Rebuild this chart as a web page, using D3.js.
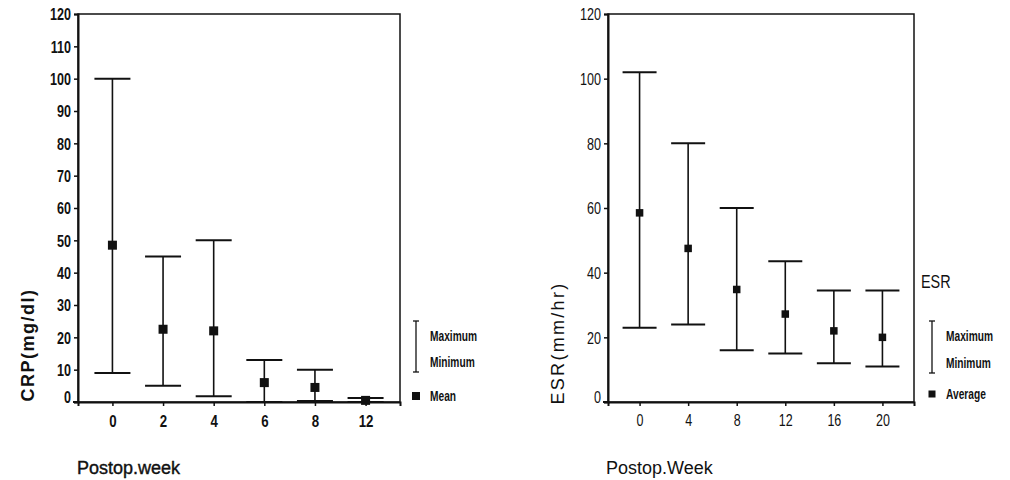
<!DOCTYPE html>
<html>
<head>
<meta charset="utf-8">
<script src="https://cdn.jsdelivr.net/npm/d3@7"></script>
<style>
  body { margin: 0; background: #fff; }
  svg { display: block; }
  text { fill: #111; }
</style>
</head>
<body>
<svg id="chart" width="1010" height="480"></svg>
<script>
// CRP panel
const crpWeeks = ["0", "2", "4", "6", "8", "12"];
const crpMax   = [100, 45, 50, 13, 10, 1.2];
const crpMean  = [48.5, 22.5, 22, 6, 4.5, 0.5];
const crpMin   = [9, 5, 1.8, 0, 0.3, 0];
const crpTicks = [0, 10, 20, 30, 40, 50, 60, 70, 80, 90, 100, 110, 120];

// ESR panel
const esrWeeks = ["0", "4", "8", "12", "16", "20"];
const esrMax   = [102, 80, 60, 43.5, 34.5, 34.5];
const esrMean  = [58.5, 47.5, 34.8, 27.2, 22, 20];
const esrMin   = [23, 24, 16, 15, 12, 11];
const esrTicks = [0, 20, 40, 60, 80, 100, 120];

const svg = d3.select("#chart");
const sans = "'Liberation Sans', Arial, sans-serif";

// squeeze text horizontally so it looks like the condensed face of the scan
function condense(sel, f) {
  sel.each(function() {
    const w = this.getComputedTextLength();
    d3.select(this).attr("textLength", w * f).attr("lengthAdjust", "spacingAndGlyphs");
  });
}

// condensed label drawn through a scale transform
function squeezedText(parent, x, y, str, size, weight, f) {
  return parent.append("text")
    .attr("transform", `translate(${x},${y}) scale(${f},1)`)
    .attr("dy", "0.35em")
    .style("font-family", sans)
    .style("font-size", size + "px")
    .style("font-weight", weight)
    .text(str);
}

function drawPanel(opt) {
  const data = opt.weeks.map((w, i) => ({ week: w, max: opt.max[i], mean: opt.mean[i], min: opt.min[i] }));
  const weight = opt.bold ? "bold" : "normal";

  const x = d3.scalePoint()
              .domain(opt.weeks)
              .range([opt.left, opt.right])
              .padding(opt.pad);

  const y = d3.scaleLinear()
              .domain([0, 120])
              .range([opt.bottom, opt.top]);

  const g = svg.append("g");

  // frame
  g.append("rect")
   .attr("x", opt.left)
   .attr("y", opt.top)
   .attr("width", opt.right - opt.left)
   .attr("height", opt.bottom - opt.top)
   .attr("fill", "none")
   .attr("stroke", "#111")
   .attr("stroke-width", 1.5);

  // y axis
  const yAxis = d3.axisLeft(y).tickValues(opt.ticks).tickSize(4).tickPadding(3);
  const ya = g.append("g")
              .attr("transform", `translate(${opt.left},0)`)
              .call(yAxis);
  ya.select(".domain").attr("stroke", "#111").attr("stroke-width", 2);
  ya.selectAll(".tick line").attr("stroke", "#111").attr("stroke-width", 1.5);
  ya.selectAll(".tick text")
    .style("font-family", sans)
    .style("font-size", "17px")
    .style("font-weight", weight)
    .attr("fill", "#111")
    .attr("dy", d => d === 0 ? "0.05em" : "0.35em")
    .call(condense, 0.74);

  // x axis
  const xAxis = d3.axisBottom(x).tickSize(4).tickPadding(9);
  const xa = g.append("g")
              .attr("transform", `translate(0,${opt.bottom})`)
              .call(xAxis);
  xa.select(".domain").attr("stroke", "#111").attr("stroke-width", 2);
  xa.selectAll(".tick line").attr("stroke", "#111").attr("stroke-width", 1.5);
  xa.selectAll(".tick text")
    .style("font-family", sans)
    .style("font-size", opt.bold ? "17px" : "16px")
    .style("font-weight", weight)
    .attr("fill", "#111")
    .call(condense, 0.78);

  // baseline runs a little past the left frame
  g.append("line")
   .attr("x1", opt.left - 5).attr("x2", opt.left)
   .attr("y1", opt.bottom).attr("y2", opt.bottom)
   .attr("stroke", "#111").attr("stroke-width", 2);

  // error bars
  const bars = g.append("g");
  bars.selectAll("line.stem")
      .data(data)
      .enter().append("line")
      .attr("class", "stem")
      .attr("x1", d => x(d.week))
      .attr("x2", d => x(d.week))
      .attr("y1", d => y(d.max))
      .attr("y2", d => y(d.min))
      .attr("stroke", "#111")
      .attr("stroke-width", 1.6);

  ["max", "min"].forEach(k => {
    bars.selectAll("line.cap-" + k)
        .data(data)
        .enter().append("line")
        .attr("class", "cap-" + k)
        .attr("x1", d => x(d.week) - opt.cap)
        .attr("x2", d => x(d.week) + opt.cap)
        .attr("y1", d => y(d[k]))
        .attr("y2", d => y(d[k]))
        .attr("stroke", "#111")
        .attr("stroke-width", 2);
  });

  bars.selectAll("rect.mean")
      .data(data)
      .enter().append("rect")
      .attr("class", "mean")
      .attr("x", d => x(d.week) - opt.sq / 2)
      .attr("y", d => y(d.mean) - opt.sq / 2)
      .attr("width", opt.sq)
      .attr("height", opt.sq)
      .attr("fill", "#111");

  // axis titles
  g.append("text")
   .attr("transform", `translate(${opt.yTitleX},${opt.yTitleY}) rotate(-90)`)
   .attr("text-anchor", "middle")
   .style("font-family", sans)
   .style("font-size", "18px")
   .style("font-weight", weight)
   .style("letter-spacing", opt.bold ? "1.5px" : "2.3px")
   .text(opt.yTitle);

  g.append("text")
   .attr("x", opt.xTitleX)
   .attr("y", 474)
   .style("font-family", sans)
   .style("font-size", "18px")
   .style("stroke", opt.bold ? "#111" : "none")
   .style("stroke-width", 0.4)
   .text(opt.xTitle);

  // legend
  const lg = g.append("g");
  const lx = opt.legX;
  lg.append("line").attr("x1", lx).attr("x2", lx).attr("y1", opt.legTop).attr("y2", opt.legBot)
    .attr("stroke", "#111").attr("stroke-width", 1.3);
  [opt.legTop, opt.legBot].forEach(v => {
    lg.append("line").attr("x1", lx - 3).attr("x2", lx + 3).attr("y1", v).attr("y2", v)
      .attr("stroke", "#111").attr("stroke-width", 1.3);
  });
  lg.append("rect")
    .attr("x", lx - opt.legSqSize / 2).attr("y", opt.legSq - opt.legSqSize / 2)
    .attr("width", opt.legSqSize).attr("height", opt.legSqSize)
    .attr("fill", "#111");

  const labels = [["Maximum", opt.legTop + 15], ["Minimum", opt.legBot - 10], [opt.meanLabel, opt.legSq]];
  labels.forEach(([t, yy]) => squeezedText(lg, lx + 14, yy, t, 15, "bold", 0.68));

  if (opt.legTitle) {
    squeezedText(lg, opt.legX - 11, 281, opt.legTitle, 19, "normal", 0.76);
  }
}

drawPanel({
  weeks: crpWeeks, max: crpMax, mean: crpMean, min: crpMin, ticks: crpTicks,
  left: 78, right: 400, top: 14, bottom: 402, pad: 0.68,
  cap: 18, sq: 9, bold: true,
  yTitle: "CRP(mg/dl)", yTitleX: 34, yTitleY: 345,
  xTitle: "Postop.week", xTitleX: 77,
  legX: 416, legTop: 321, legBot: 372, legSq: 396, legSqSize: 8, meanLabel: "Mean"
});

drawPanel({
  weeks: esrWeeks, max: esrMax, mean: esrMean, min: esrMin, ticks: esrTicks,
  left: 608, right: 914, top: 14, bottom: 402, pad: 0.65,
  cap: 17, sq: 7.5, bold: false,
  yTitle: "ESR(mm/hr)", yTitleX: 564, yTitleY: 343,
  xTitle: "Postop.Week", xTitleX: 606,
  legX: 932, legTop: 321, legBot: 373, legSq: 394, legSqSize: 7, meanLabel: "Average",
  legTitle: "ESR"
});
</script>
</body>
</html>
